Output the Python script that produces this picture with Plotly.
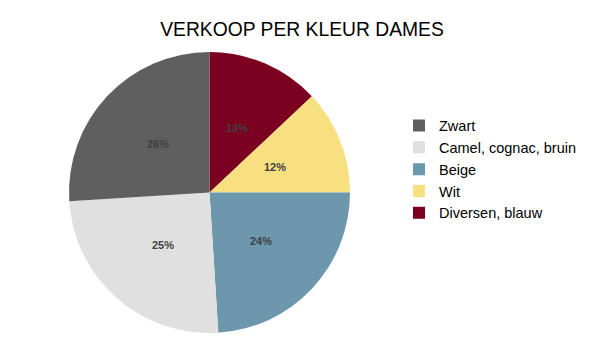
import math
import plotly.graph_objects as go

labels = ["Zwart", "Camel, cognac, bruin", "Beige", "Wit", "Diversen, blauw"]
values = [26, 25, 24, 12, 13]
colors = ["#5f5f5f", "#e0e0e0", "#6d97ad", "#f8df80", "#7b0020"]

W, H = 604, 340
dom_x = [68 / W, 351 / W]
dom_y = [1 - 333 / H, 1 - 52 / H]

# drawn clockwise from 12 o'clock in reverse order; legend shown reversed
lab_r, val_r, col_r = labels[::-1], values[::-1], colors[::-1]

fig = go.Figure(go.Pie(
    labels=lab_r,
    values=val_r,
    sort=False,
    direction="clockwise",
    rotation=0,
    marker=dict(colors=col_r, line=dict(width=0)),
    textinfo="none",
    domain=dict(x=dom_x, y=dom_y),
    hoverinfo="label+percent",
))

# data labels at half radius along each slice's bisector (Excel-style)
cx = (dom_x[0] + dom_x[1]) / 2 * W
cy = (1 - (dom_y[0] + dom_y[1]) / 2) * H
R = min((dom_x[1] - dom_x[0]) * W, (dom_y[1] - dom_y[0]) * H) / 2
total = sum(val_r)
cum = 0
for v in val_r:
    mid = (cum + v / 2) / total * 2 * math.pi
    cum += v
    px = cx + 0.5 * R * math.sin(mid)
    py = cy - 0.5 * R * math.cos(mid)
    fig.add_annotation(
        x=px / W, y=1 - py / H, xref="paper", yref="paper",
        text=f"<b>{round(v / total * 100)}%</b>", showarrow=False,
        font=dict(family="Arial, Liberation Sans", size=11, color="#404040"),
        xanchor="center", yanchor="middle",
    )

fig.update_layout(
    width=W, height=H,
    margin=dict(l=0, r=0, t=0, b=0),
    paper_bgcolor="white",
    plot_bgcolor="white",
    title=dict(text="VERKOOP PER KLEUR DAMES", x=0.5, xanchor="center", y=1 - 29 / H, yanchor="middle",
               font=dict(family="Arial, Liberation Sans", size=19.3, color="#000000")),
    legend=dict(x=399 / W, xanchor="left", y=1 - 169.5 / H, yanchor="middle",
                font=dict(family="Arial, Liberation Sans", size=14.5, color="#000000"),
                traceorder="reversed"),
)

fig.write_html("out.html")
